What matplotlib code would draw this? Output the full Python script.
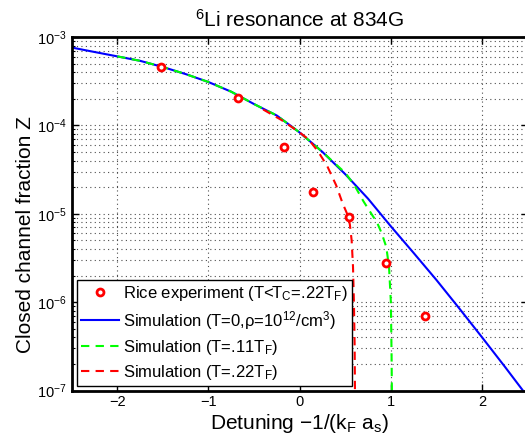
import matplotlib
matplotlib.use('Agg')
import matplotlib.pyplot as plt
from matplotlib.ticker import LogLocator, NullFormatter

plt.rcParams['font.family'] = ['Liberation Sans', 'DejaVu Sans']
plt.rcParams['mathtext.default'] = 'regular'

# Rice experiment points
exp_x = [-1.52, -0.68, -0.17, 0.15, 0.54, 0.95, 1.37]
exp_z = [4.54e-4, 2.06e-4, 5.65e-5, 1.77e-5, 9.3e-6, 2.8e-6, 7.0e-7]

# Simulation T=0
sim0_x = [-2.5, -2.25, -2.0, -1.75, -1.5, -1.25, -1.0, -0.75, -0.5, -0.25, 0.0,
          0.25, 0.5, 0.75, 1.0, 1.25, 1.5, 1.75, 2.0, 2.25, 2.5]
sim0_z = [7.59e-4, 6.76e-4, 6.03e-4, 5.37e-4, 4.57e-4, 3.80e-4, 3.09e-4, 2.40e-4,
          1.74e-4, 1.29e-4, 8.3e-5, 5.0e-5, 2.8e-5, 1.48e-5, 7.2e-6, 3.6e-6,
          1.78e-6, 8.5e-7, 4.0e-7, 1.86e-7, 8.5e-8]

# Simulation T=.11 TF
sim11_x = [-2.0, -1.75, -1.5, -1.25, -1.0, -0.75, -0.5, -0.25, 0.0, 0.25, 0.4,
           0.5, 0.6, 0.7, 0.8, 0.85, 0.9, 0.95, 0.98, 1.0, 1.008, 1.012]
sim11_z = [6.03e-4, 5.37e-4, 4.57e-4, 3.80e-4, 3.09e-4, 2.40e-4, 1.74e-4, 1.29e-4,
           8.3e-5, 5.0e-5, 3.6e-5, 2.9e-5, 2.1e-5, 1.38e-5, 9.5e-6, 7.9e-6,
           6.0e-6, 4.2e-6, 2.5e-6, 1.0e-6, 2.5e-7, 8e-8]

# Simulation T=.22 TF
sim22_x = [-0.4, -0.2, 0.0, 0.1, 0.2, 0.3, 0.4, 0.47, 0.52, 0.55, 0.57, 0.585,
           0.595, 0.603, 0.607]
sim22_z = [1.51e-4, 1.15e-4, 8.3e-5, 6.9e-5, 5.1e-5, 3.5e-5, 2.1e-5, 1.32e-5,
           1.0e-5, 7.6e-6, 5.0e-6, 2.5e-6, 1.0e-6, 3.2e-7, 8e-8]

fig = plt.figure(figsize=(5.25, 4.4), dpi=100)
ax = fig.add_axes([0.1366, 0.1125, 0.8684, 0.8035])

ax.semilogy(exp_x, exp_z, 'o', color='r', mfc='white', mew=2, ms=5,
            label='Rice experiment (T<T$_C$=.22T$_F$)', zorder=5)
ax.semilogy(sim0_x, sim0_z, '-', color='#0000ff', lw=1.5,
            label='Simulation (T=0,ρ=10$^{12}$/cm$^3$)')
ax.semilogy(sim11_x, sim11_z, '--', color='#00ff00', lw=1.5, dashes=(4, 3),
            label='Simulation (T=.11T$_F$)')
ax.semilogy(sim22_x, sim22_z, '--', color='#ff0000', lw=1.5, dashes=(4, 3),
            label='Simulation (T=.22T$_F$)')

ax.set_xlim(-2.5, 2.5)
ax.set_ylim(1e-7, 1e-3)
ax.set_xticks([-2, -1, 0, 1, 2])
ax.yaxis.set_major_locator(LogLocator(base=10, numticks=10))
ax.yaxis.set_minor_locator(LogLocator(base=10, subs=range(2, 10), numticks=10))
ax.yaxis.set_minor_formatter(NullFormatter())

ax.grid(True, which='major', ls=(0, (1, 3)), color='0.3', lw=0.8)
ax.grid(True, which='minor', axis='y', ls=(0, (1, 3)), color='0.3', lw=0.8)
ax.tick_params(which='both', direction='in', top=True, right=True, labelsize=10.5)
ax.tick_params(which='major', length=5, width=1)
ax.tick_params(which='minor', length=2.5, width=0.8)
for s in ax.spines.values():
    s.set_linewidth(2)

ax.set_title('$^6$Li resonance at 834G', fontsize=15, pad=7)
ax.set_ylabel('Closed channel fraction Z', fontsize=15)
ax.yaxis.set_label_coords(-0.08, 0.44)
ax.set_xlabel('Detuning −1/(k$_F$ a$_s$)', fontsize=15, labelpad=2)

leg = ax.legend(loc='lower left', bbox_to_anchor=(0.011, 0.0136), borderaxespad=0,
                fontsize=12, fancybox=False, edgecolor='black', framealpha=1,
                handlelength=2.3, labelspacing=0.35, borderpad=0.25, handletextpad=0.2)
leg.get_frame().set_linewidth(1)

fig.savefig('out.png', dpi=100)
